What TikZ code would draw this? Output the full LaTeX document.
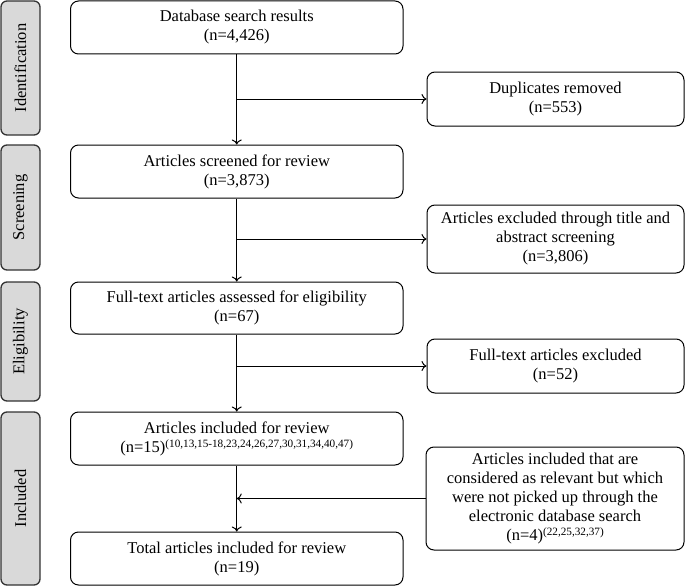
\documentclass[tikz,border=0pt]{standalone}
\usepackage{fontspec}
\setmainfont{Liberation Serif}
\usetikzlibrary{arrows.meta,positioning}
\newcommand{\refsup}[1]{\raisebox{5pt}{\fontsize{11.2}{12}\selectfont #1}}
\begin{document}
\begin{tikzpicture}[x=1pt,y=-1pt,
  every node/.style={font=\fontsize{16.5}{19}\selectfont},
  box/.style={draw, line width=1pt, rounded corners=8pt, align=center, inner sep=2pt},
  phase/.style={draw=black!80, line width=1.3pt, fill=black!15, rounded corners=6pt, align=center, inner sep=0pt},
  arr/.style={line width=1pt, -{To[length=5pt,width=10pt]}},
  ln/.style={line width=1pt}]
\useasboundingbox (0,0) rectangle (685,586);
\newcommand{\bx}[6]{\node[box, minimum width=#3-#2, minimum height=#5-#4] (#1) at ({(#2+#3)/2},{(#4+#5)/2}) {#6};}
\newcommand{\ph}[4]{\node[phase, minimum width=39, minimum height=#3-#2] (#1) at (20.5,{(#2+#3)/2}) {}; \node[rotate=90] at (#1.center) {#4};}
\ph{pid}{1}{135}{Identification}
\ph{psc}{145}{270}{Screening}
\ph{pel}{282}{401}{Eligibility}
\ph{pin}{412}{585}{Included}
\bx{b1}{70.5}{403}{1}{54}{Database search results\\(n=4,426)}
\bx{dup}{427}{684}{72}{126}{Duplicates removed\\(n=553)}
\bx{b2}{70.5}{403}{145}{198}{Articles screened for review\\(n=3,873)}
\bx{ex1}{427}{684}{205}{273}{Articles excluded through title and\\abstract screening\\(n=3,806)}
\bx{b3}{70.5}{403}{282}{334}{Full-text articles assessed for eligibility\\(n=67)}
\bx{ex2}{427}{684}{339}{393}{Full-text articles excluded\\(n=52)}
\bx{b4}{70.5}{403}{412}{465}{Articles included for review\\(n=15)\refsup{(10,13,15-18,23,24,26,27,30,31,34,40,47)}}
\bx{add}{426}{684}{447}{550}{Articles included that are\\considered as relevant but which\\were not picked up through the\\electronic database search\\(n=4)\refsup{(22,25,32,37)}}
\bx{b5}{70.5}{403}{532}{585}{Total articles included for review\\(n=19)}
\draw[arr] (b1) -- (b2);
\draw[arr] (b2) -- (b3);
\draw[arr] (b3) -- (b4);
\draw[arr] (b4) -- (b5);
\draw[arr] (b1.south |- dup.west) -- (dup.west);
\draw[arr] (b2.south |- ex1.west) -- (ex1.west);
\draw[arr] (b3.south |- ex2.west) -- (ex2.west);
\draw[arr] (add.west) -- (b4.south |- add.west);
\end{tikzpicture}
\end{document}
